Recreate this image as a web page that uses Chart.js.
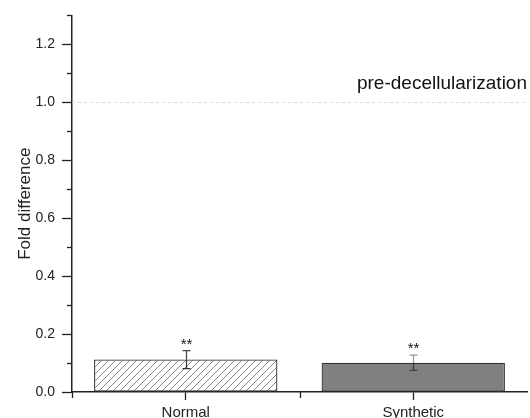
<!DOCTYPE html>
<html><head><meta charset="utf-8">
<script src="https://cdn.jsdelivr.net/npm/chart.js@4/dist/chart.umd.min.js"></script>
<style>html,body{margin:0;padding:0;background:#fff}#wrap{width:530px;height:418px;position:relative}</style>
</head><body><div id="wrap"><canvas id="c" width="530" height="418"></canvas></div>
<script>
const categories = ["Normal", "Synthetic"];
const foldValues = [0.112, 0.101];
const errorValues = [0.031, 0.026];
const significance = ["**", "**"];
const majorTicks = [0, 0.2, 0.4, 0.6, 0.8, 1.0, 1.2];
const minorTicks = [0.1, 0.3, 0.5, 0.7, 0.9, 1.1, 1.3];
const referenceLevel = 1.0;
const annotationText = "pre-decellularization";
const annotationLevel = 1.045;

const FONT = "'Liberation Sans', Arial, sans-serif";

function hatch() {
  const s = 7;
  const p = document.createElement('canvas');
  p.width = s; p.height = s;
  const g = p.getContext('2d');
  g.fillStyle = '#fff'; g.fillRect(0, 0, s, s);
  g.strokeStyle = '#777'; g.lineWidth = 0.9;
  g.beginPath();
  g.moveTo(0, s); g.lineTo(s, 0);
  g.moveTo(-1, 1); g.lineTo(1, -1);
  g.moveTo(s - 1, s + 1); g.lineTo(s + 1, s - 1);
  g.stroke();
  return g.createPattern(p, 'repeat');
}

const extras = {
  id: 'extras',
  beforeDatasetsDraw(chart) {
    const ctx = chart.ctx, y = chart.scales.y, a = chart.chartArea;
    ctx.save();
    ctx.strokeStyle = '#d8d8d8'; ctx.lineWidth = 1; ctx.setLineDash([3, 3]);
    const ry = Math.round(y.getPixelForValue(referenceLevel)) + 0.5;
    ctx.beginPath(); ctx.moveTo(a.left, ry); ctx.lineTo(a.right, ry); ctx.stroke();
    ctx.restore();
  },
  afterDatasetsDraw(chart) {
    const ctx = chart.ctx, y = chart.scales.y, x = chart.scales.x, a = chart.chartArea;
    const meta = chart.getDatasetMeta(0);
    ctx.save();
    meta.data.forEach((bar, i) => {
      const cx = Math.round(bar.x) + 0.5;
      const top = y.getPixelForValue(foldValues[i] + errorValues[i]);
      const bot = y.getPixelForValue(foldValues[i] - errorValues[i]);
      const mid = y.getPixelForValue(foldValues[i]);
      ctx.lineWidth = 1.2;
      ctx.strokeStyle = i === 0 ? '#444' : '#999';
      ctx.beginPath();
      ctx.moveTo(cx, top); ctx.lineTo(cx, mid);
      ctx.moveTo(cx - 4, top); ctx.lineTo(cx + 4, top);
      ctx.stroke();
      ctx.strokeStyle = '#333';
      ctx.beginPath();
      ctx.moveTo(cx, mid); ctx.lineTo(cx, bot);
      ctx.moveTo(cx - 4, bot); ctx.lineTo(cx + 4, bot);
      ctx.stroke();
      ctx.fillStyle = '#111';
      ctx.font = '15px ' + FONT;
      ctx.textAlign = 'center'; ctx.textBaseline = 'alphabetic';
      ctx.fillText(significance[i], cx, top - 2);
    });
    // minor ticks
    ctx.strokeStyle = '#222'; ctx.lineWidth = 1.3;
    minorTicks.forEach(v => {
      const py = Math.round(y.getPixelForValue(v)) + 0.5;
      ctx.beginPath(); ctx.moveTo(a.left - 5, py); ctx.lineTo(a.left, py); ctx.stroke();
    });
    // category boundary ticks on x
    [0, 1].forEach(i => {
      const px = Math.round(x.getPixelForValue(i) - (x.getPixelForValue(1) - x.getPixelForValue(0)) / 2) + 0.5;
      ctx.beginPath(); ctx.moveTo(px, a.bottom); ctx.lineTo(px, a.bottom + 6); ctx.stroke();
    });
    // annotation
    ctx.fillStyle = '#111';
    ctx.font = '19px ' + FONT;
    ctx.textAlign = 'right'; ctx.textBaseline = 'alphabetic';
    ctx.fillText(annotationText, a.right, y.getPixelForValue(annotationLevel));
    ctx.restore();
  }
};

new Chart(document.getElementById('c'), {
  type: 'bar',
  data: {
    labels: categories,
    datasets: [{
      data: foldValues,
      backgroundColor: [hatch(), '#808080'],
      borderColor: '#333',
      borderWidth: 1.3,
      borderSkipped: false,
      categoryPercentage: 1,
      barPercentage: 0.806
    }]
  },
  options: {
    responsive: false,
    animation: false,
    devicePixelRatio: 1,
    layout: { padding: { top: 15, right: 3, left: 0, bottom: 0 } },
    plugins: { legend: { display: false }, tooltip: { enabled: false } },
    scales: {
      x: {
        offset: true,
        grid: { display: true, drawOnChartArea: false, offset: false, tickLength: 8, tickColor: '#222', tickWidth: 1.3 },
        border: { display: true, color: '#222', width: 1.5 },
        ticks: { color: '#222', font: { family: FONT, size: 15 }, padding: 4, maxRotation: 0 },
        afterFit(s) { s.height = 26; }
      },
      y: {
        min: 0, max: 1.3,
        afterBuildTicks(s) { s.ticks = majorTicks.map(v => ({ value: v })); },
        grid: { display: true, drawOnChartArea: false, tickLength: 10, tickColor: '#222', tickWidth: 1.3 },
        border: { display: true, color: '#222', width: 1.5 },
        ticks: { color: '#222', font: { family: FONT, size: 14 }, padding: 7, callback: v => Number(v).toFixed(1) },
        title: { display: true, text: 'Fold difference', color: '#222', font: { family: FONT, size: 17 }, padding: { top: 15, bottom: 4 } },
        afterFit(s) { s.width = 72; }
      }
    }
  },
  plugins: [extras]
});
</script></body></html>
